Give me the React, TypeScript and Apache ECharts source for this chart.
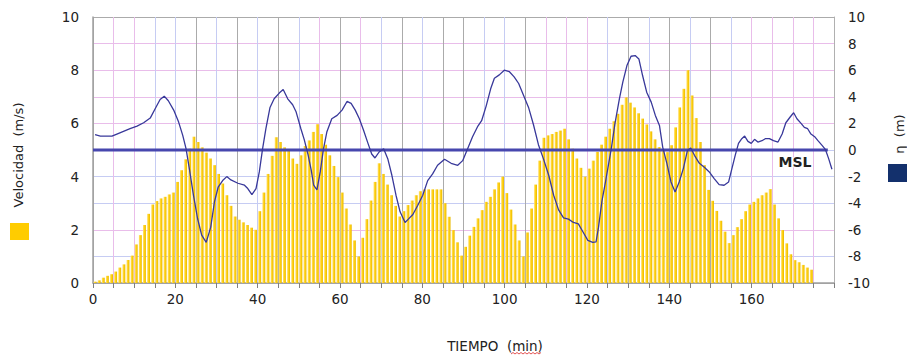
import React, { useEffect, useRef } from "react";
import * as echarts from "echarts";

// Velocidad (m/s), one bar per minute (bar i centred at minute i + 0.5)
const velocidad = [
  0.05, 0.1, 0.2, 0.27, 0.33, 0.43, 0.58, 0.7, 0.86, 1.03,
  1.45, 1.8, 2.18, 2.6, 2.95, 3.08, 3.18, 3.24, 3.33, 3.4,
  3.8, 4.24, 4.65, 5.05, 5.5, 5.3, 5.1, 4.9, 4.68, 4.43,
  4.1, 3.74, 3.3, 2.9, 2.5, 2.38, 2.28, 2.18, 2.08, 2.0,
  2.7, 3.4, 4.1, 4.78, 5.48, 5.3, 5.1, 5.0, 4.68, 4.48,
  4.8, 5.15, 5.36, 5.68, 5.97, 5.6, 5.2, 4.8, 4.4, 3.98,
  3.4, 2.8, 2.2, 1.6, 1.0, 1.7, 2.4, 3.1, 3.8, 4.5,
  4.1, 3.7, 3.3, 2.9, 2.5, 2.7, 2.93, 3.1, 3.3, 3.45,
  3.52, 3.52, 3.52, 3.52, 3.52, 3.0, 2.49, 1.99, 1.53, 1.03,
  1.36, 1.78, 2.11, 2.43, 2.74, 3.05, 3.24, 3.52, 3.78, 4.0,
  3.38, 2.76, 2.2, 1.6, 1.0, 1.9, 2.8, 3.7, 4.6, 5.46,
  5.55, 5.6, 5.68, 5.73, 5.8, 5.4, 5.05, 4.68, 4.33, 4.0,
  4.3, 4.6, 4.93, 5.2, 5.5, 5.8, 6.08, 6.36, 6.7, 6.98,
  6.78, 6.6, 6.38, 6.18, 5.96, 5.7, 5.4, 5.11, 5.0, 4.92,
  5.18, 5.85, 6.6, 7.3, 8.0, 7.05, 6.2, 5.3, 4.43, 3.5,
  3.09, 2.71, 2.34, 1.93, 1.5, 1.8, 2.1, 2.4, 2.7, 2.95,
  3.05, 3.18, 3.3, 3.4, 3.53, 2.95, 2.43, 1.99, 1.49, 1.08,
  0.86, 0.78, 0.68, 0.58, 0.5,
];

// η (m): time (min) and level
const etaTiempo = [
  0.5, 1.8, 3.0, 4.6, 5.8, 7.4, 9.0, 10.7, 12.3, 13.9,
  15.1, 16.3, 17.3, 18.3, 19.6, 20.8, 21.8, 22.6, 23.4, 24.4,
  25.4, 26.4, 27.5, 28.6, 29.5, 30.4, 31.5, 32.5, 33.5, 35.2,
  36.8, 37.6, 38.6, 39.6, 40.4, 41.2, 42.0, 43.0, 44.0, 45.3,
  46.2, 47.3, 48.5, 49.3, 50.5, 51.3, 52.2, 53.0, 53.6, 54.4,
  55.2, 56.0, 56.8, 58.0, 59.3, 60.5, 61.7, 62.7, 63.7, 64.7,
  65.7, 66.8, 67.7, 68.5, 69.5, 70.6, 71.6, 72.6, 73.6, 74.6,
  75.8, 76.6, 77.7, 78.9, 80.1, 81.3, 82.5, 83.7, 85.4, 87.0,
  88.6, 89.8, 91.0, 92.2, 93.5, 94.4, 95.5, 96.6, 97.5, 98.7,
  99.9, 101.1, 102.3, 103.4, 104.6, 105.8, 107.0, 108.2, 109.4, 110.7,
  111.9, 113.1, 114.3, 115.5, 116.7, 117.9, 119.0, 120.2, 121.4, 122.2,
  122.8, 123.6, 124.6, 125.9, 126.8, 127.9, 128.7, 129.7, 130.7, 131.7,
  132.6, 133.5, 134.5, 135.6, 136.6, 137.6, 138.4, 139.4, 140.4, 141.4,
  142.4, 143.4, 144.4, 145.2, 146.1, 147.3, 148.5, 149.7, 150.9, 152.1,
  153.3, 154.4, 155.2, 156.0, 156.8, 157.6, 158.3, 159.1, 159.9, 160.7,
  161.5, 162.5, 163.3, 164.3, 165.3, 166.4, 167.4, 168.3, 169.4, 170.2,
  171.0, 172.0, 172.8, 173.6, 174.4, 175.3, 176.1, 177.1, 177.9, 178.7,
  179.5,
];
const etaNivel = [
  1.15, 1.05, 1.05, 1.05, 1.2, 1.4, 1.6, 1.8, 2.05, 2.4,
  3.1, 3.8, 4.05, 3.7, 3.0, 2.1, 1.1, 0.1, -1.4, -3.4,
  -5.15, -6.4, -6.95, -5.8, -3.9, -2.8, -2.3, -2.0, -2.25, -2.5,
  -2.65, -2.9, -3.35, -2.9, -1.65, 0.1, 1.6, 3.2, 3.85, 4.3,
  4.55, 3.85, 3.4, 2.9, 1.6, 0.8, -0.3, -1.5, -2.65, -3.0,
  -1.65, 0.1, 1.35, 2.35, 2.6, 3.0, 3.65, 3.5, 3.0, 2.35,
  1.5, 0.5, -0.3, -0.6, -0.15, 0.1, -0.65, -1.9, -3.4, -4.65,
  -5.45, -5.2, -4.85, -4.15, -3.4, -2.3, -1.8, -1.15, -0.7, -1.0,
  -1.15, -0.8, 0.1, 1.0, 1.8, 2.2, 3.3, 4.6, 5.4, 5.65,
  6.0, 5.9, 5.5, 5.0, 4.1, 3.2, 1.9, 0.4, -0.65, -1.9,
  -3.4, -4.5, -5.1, -5.2, -5.45, -5.55, -6.15, -6.8, -6.95, -6.9,
  -5.8, -3.9, -2.2, 0.1, 2.0, 3.9, 5.1, 6.35, 7.05, 7.1,
  6.85, 5.6, 4.35, 3.6, 2.6, 1.85, 0.2, -1.0, -2.4, -3.15,
  -2.4, -1.4, -0.03, 0.15, -0.4, -1.0, -1.3, -1.65, -2.15, -2.6,
  -2.65, -2.4, -1.4, -0.4, 0.5, 0.85, 1.05, 0.65, 0.5, 0.8,
  0.6, 0.7, 0.85, 0.85, 0.7, 0.6, 1.2, 2.05, 2.5, 2.8,
  2.35, 2.0, 1.7, 1.6, 1.2, 1.0, 0.7, 0.35, 0.05, -0.65,
  -1.45,
];

// Mean sea level reference line
const mslTiempo = [0, 178.5];
const mslNivel = [0, 0];

const etiquetasX = [0, 20, 40, 60, 80, 100, 120, 140, 160];

const P = "#E9BDEA";
const B = "#C6CCF3";
const G = "#ABABAB";
const coloresVerticales = [
  G, P, P, B, B, G, B, G, B, G, B, P, G, P, B, G, B, G, G, B,
  B, G, P, P, P, B, G, B, G, B, G, B, P, P, P, P, G,
];
const coloresHorizontales = [G, B, P, B, B, B, P, P, P, P, G];

const FONT = "DejaVu Sans";

export default function App() {
  const ref = useRef<HTMLDivElement>(null);

  useEffect(() => {
    const chart = echarts.init(ref.current!, null, { renderer: "svg" });
    const barData = velocidad.map((v, i) => [i + 0.5, v]);
    const etaData = etaTiempo.map((t, i) => [t, etaNivel[i]]);
    const mslData = mslTiempo.map((t, i) => [t, mslNivel[i]]);

    chart.setOption({
      animation: false,
      backgroundColor: "#ffffff",
      textStyle: { fontFamily: FONT },
      grid: { left: 93, right: 73, top: 17, bottom: 73, containLabel: false },
      xAxis: {
        type: "value",
        min: 0,
        max: 180,
        interval: 5,
        axisLine: { show: true, lineStyle: { color: "#A0A0A0", width: 1.5 } },
        axisTick: { show: true, length: 5, lineStyle: { color: "#808080" } },
        axisLabel: {
          margin: 9,
          fontSize: 13.5,
          color: "#222",
          fontFamily: FONT,
          formatter: (v: number) => (etiquetasX.includes(v) ? String(v) : ""),
        },
        splitLine: {
          show: true,
          showMinLine: true,
          showMaxLine: true,
          lineStyle: { color: coloresVerticales, width: 1 },
        },
      },
      yAxis: [
        {
          type: "value",
          min: 0,
          max: 10,
          interval: 2,
          position: "left",
          axisLine: { show: true, lineStyle: { color: "#A0A0A0", width: 1.5 } },
          axisTick: { show: false },
          axisLabel: { margin: 14, fontSize: 13.5, color: "#222", fontFamily: FONT },
          splitLine: { show: false },
        },
        {
          type: "value",
          min: -10,
          max: 10,
          interval: 2,
          position: "right",
          axisLine: { show: true, lineStyle: { color: "#B0B0B0", width: 1 } },
          axisTick: { show: false },
          axisLabel: { margin: 14, fontSize: 13.5, color: "#222", fontFamily: FONT },
          splitLine: {
            show: true,
            showMinLine: true,
            showMaxLine: true,
            lineStyle: { color: coloresHorizontales, width: 1 },
          },
        },
      ],
      series: [
        {
          type: "bar",
          name: "Velocidad",
          yAxisIndex: 0,
          data: barData,
          barWidth: 2.9,
          itemStyle: {
            color: new echarts.graphic.LinearGradient(0, 0, 1, 0, [
              { offset: 0, color: "#FFE27A" },
              { offset: 0.5, color: "#FFD010" },
              { offset: 1, color: "#E8B900" },
            ]),
          },
          z: 2,
        },
        {
          type: "line",
          name: "MSL",
          yAxisIndex: 1,
          data: mslData,
          showSymbol: false,
          lineStyle: { color: "#4747AE", width: 3 },
          z: 3,
        },
        {
          type: "line",
          name: "η",
          yAxisIndex: 1,
          data: etaData,
          showSymbol: false,
          lineStyle: { color: "#38389A", width: 1.3 },
          z: 4,
        },
      ],
      graphic: [
        {
          type: "text",
          x: 795,
          y: 162,
          style: {
            text: "MSL",
            font: `bold 14px ${FONT}`,
            fill: "#222",
            align: "center",
            verticalAlign: "middle",
            stroke: "#ffffff",
            lineWidth: 2,
          },
          z: 10,
        },
        {
          type: "text",
          x: 495,
          y: 346,
          style: {
            text: "TIEMPO  (min)",
            font: `13.5px ${FONT}`,
            fill: "#222",
            align: "center",
            verticalAlign: "middle",
          },
        },
        {
          type: "polyline",
          shape: {
            points: [
              [511, 354], [513, 352.5], [515, 354], [517, 352.5], [519, 354],
              [521, 352.5], [523, 354], [525, 352.5], [527, 354], [529, 352.5],
              [531, 354], [533, 352.5], [535, 354], [537, 352.5], [539, 354],
              [541, 352.5],
            ],
          },
          style: { stroke: "#E04040", lineWidth: 0.9, fill: null },
        },
        {
          type: "text",
          x: 18,
          y: 155,
          rotation: Math.PI / 2,
          style: {
            text: "Velocidad  (m/s)",
            font: `13px ${FONT}`,
            fill: "#222",
            align: "center",
            verticalAlign: "middle",
          },
        },
        {
          type: "rect",
          shape: { x: 10, y: 223, width: 19, height: 17 },
          style: { fill: "#FFCC00" },
        },
        {
          type: "text",
          x: 899,
          y: 134,
          rotation: Math.PI / 2,
          style: {
            text: "η  (m)",
            font: `13px ${FONT}`,
            fill: "#222",
            align: "center",
            verticalAlign: "middle",
          },
        },
        {
          type: "rect",
          shape: { x: 888, y: 164, width: 20, height: 18 },
          style: { fill: "#13306C" },
        },
      ],
    });

    return () => chart.dispose();
  }, []);

  return (
    <div
      ref={ref}
      style={{ position: "fixed", left: 0, top: 0, width: 907, height: 356, background: "#fff" }}
    />
  );
}
